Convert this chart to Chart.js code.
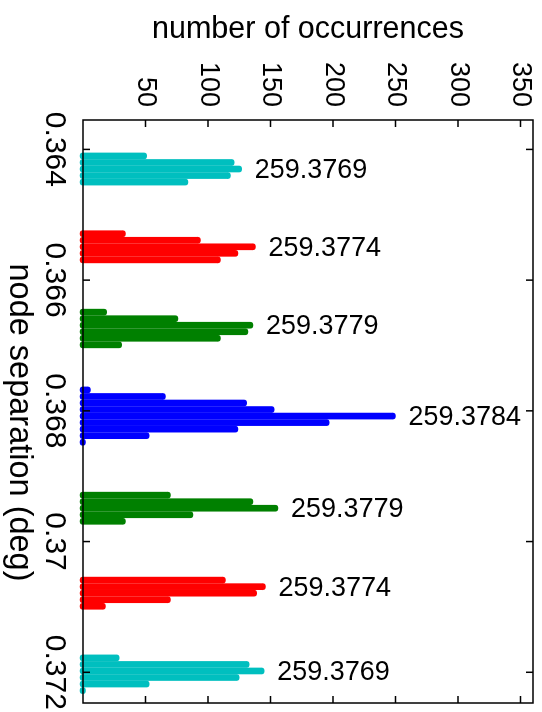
<!DOCTYPE html>
<html><head><meta charset="utf-8">
<script src="https://cdn.jsdelivr.net/npm/chart.js@4/dist/chart.umd.min.js"></script>
<style>
html,body{margin:0;padding:0;background:#fff;overflow:hidden;width:542px;height:712px;}
#wrap{position:absolute;left:0;top:0;width:712px;height:542px;transform-origin:0 0;transform:translateX(542px) rotate(90deg);}
</style></head><body>
<div id="wrap"><canvas id="c" width="712" height="542"></canvas></div>
<script>
// node separation (deg) bin centres and number of occurrences, per cluster
const sep1 = [0.36410, 0.36420, 0.36430, 0.36440, 0.36450];
const cnt1 = [51, 121, 127, 118, 84];
const sep2 = [0.36529, 0.36539, 0.36549, 0.36559, 0.36569];
const cnt2 = [34, 94, 138, 124, 110];
const sep3 = [0.36649, 0.36659, 0.36669, 0.36679, 0.36689, 0.36699];
const cnt3 = [19, 76, 136, 132, 110, 31];
const sep4 = [0.36768, 0.36778, 0.36788, 0.36798, 0.36808, 0.36818, 0.36828, 0.36838, 0.36848];
const cnt4 = [6, 66, 131, 153, 250, 197, 124, 53, 2];
const sep5 = [0.36929, 0.36939, 0.36949, 0.36959, 0.36969];
const cnt5 = [70, 136, 156, 88, 34];
const sep6 = [0.37059, 0.37069, 0.37079, 0.37089, 0.37099];
const cnt6 = [114, 146, 139, 70, 18];
const sep7 = [0.37178, 0.37188, 0.37198, 0.37208, 0.37218, 0.37228];
const cnt7 = [29, 133, 145, 125, 53, 2];
const peakLabels = ['259.3769', '259.3774', '259.3779', '259.3784', '259.3779', '259.3774', '259.3769'];
const sepTicks = [0.364, 0.366, 0.368, 0.370, 0.372];
const sepTickLabels = ['0.364', '0.366', '0.368', '0.37', '0.372'];
const countTicks = [50, 100, 150, 200, 250, 300, 350];
const sepTitle = 'node separation (deg)';
const countTitle = 'number of occurrences';

const CYAN = 'rgb(0,191,191)', RED = 'rgb(255,0,0)', GREEN = 'rgb(0,128,0)', BLUE = 'rgb(0,0,255)';
const groupSeps = [sep1, sep2, sep3, sep4, sep5, sep6, sep7];
const groupCnts = [cnt1, cnt2, cnt3, cnt4, cnt5, cnt6, cnt7];
const groupColors = [CYAN, RED, GREEN, BLUE, GREEN, RED, CYAN];
const FONT = '"Liberation Sans", Arial, Helvetica, sans-serif';

const datasets = groupSeps.map((s, g) => ({
  data: s.map((v, i) => ({x: v, y: groupCnts[g][i]})),
  backgroundColor: groupColors[g],
  borderWidth: 0,
  barThickness: 6,
  base: -2.4,
  borderRadius: 3,
  borderSkipped: false,
  grouped: false,
  clip: false
}));

const framePlugin = {
  id: 'frame',
  afterDatasetsDraw(chart) {
    const {ctx, chartArea: a, scales: {x, y}} = chart;
    ctx.save();
    ctx.strokeStyle = '#000';
    ctx.lineWidth = 1.5;
    ctx.strokeRect(a.left, a.top, a.right - a.left, a.bottom - a.top);
    const L = 7;
    ctx.beginPath();
    sepTicks.forEach(v => {
      const px = x.getPixelForValue(v);
      ctx.moveTo(px, a.bottom); ctx.lineTo(px, a.bottom - L);
      ctx.moveTo(px, a.top); ctx.lineTo(px, a.top + L);
    });
    countTicks.forEach(v => {
      const py = y.getPixelForValue(v);
      ctx.moveTo(a.left, py); ctx.lineTo(a.left + L, py);
      ctx.moveTo(a.right, py); ctx.lineTo(a.right - L, py);
    });
    ctx.stroke();
    ctx.fillStyle = '#000';
    // separation axis title
    ctx.font = '32.5px ' + FONT;
    ctx.textAlign = 'center';
    ctx.textBaseline = 'middle';
    ctx.fillText(sepTitle, (a.left + a.right) / 2 + 11, x.bottom - 19);
    // peak annotations
    ctx.font = '27px ' + FONT;
    ctx.textAlign = 'left';
    groupCnts.forEach((c, g) => {
      let k = 0;
      c.forEach((v, i) => { if (v > c[k]) k = i; });
      const px = x.getPixelForValue(groupSeps[g][k]);
      const py = y.getPixelForValue(c[k] + 10.4);
      ctx.save();
      ctx.translate(px, py);
      ctx.rotate(-Math.PI / 2);
      ctx.fillText(peakLabels[g], 0, 1.5);
      ctx.restore();
    });
    ctx.restore();
  }
};

function noPad(s) { s.paddingTop = 0; s.paddingBottom = 0; s.paddingLeft = 0; s.paddingRight = 0; }

new Chart(document.getElementById('c'), {
  type: 'bar',
  data: {datasets},
  options: {
    responsive: false,
    animation: false,
    devicePixelRatio: 1,
    layout: {padding: {top: 9, right: 9, left: 0, bottom: 0}},
    plugins: {legend: {display: false}, tooltip: {enabled: false}},
    scales: {
      x: {
        type: 'linear', position: 'bottom', min: 0.36355, max: 0.37247, offset: false,
        afterBuildTicks: s => { s.ticks = sepTicks.map(v => ({value: v})); },
        afterFit: s => { s.height = 83; noPad(s); },
        grid: {display: false, drawTicks: false, offset: false},
        border: {display: false},
        ticks: {
          padding: 11, color: '#000', autoSkip: false, maxRotation: 0, minRotation: 0,
          font: {family: FONT, size: 30},
          callback: (v) => sepTickLabels[sepTicks.findIndex(t => Math.abs(t - v) < 1e-9)]
        },
        title: {display: false}
      },
      y: {
        type: 'linear', position: 'left', min: 0, max: 360,
        afterBuildTicks: s => { s.ticks = countTicks.map(v => ({value: v})); },
        afterFit: s => { s.width = 120; noPad(s); },
        grid: {display: false, drawTicks: false},
        border: {display: false},
        ticks: {padding: 13, color: '#000', font: {family: FONT, size: 27},
          callback: v => String(v)},
        title: {display: true, text: countTitle, color: '#000',
          font: {family: FONT, size: 30.5}, padding: {top: 11, bottom: 0}}
      }
    }
  },
  plugins: [framePlugin]
});
</script>
</body></html>
